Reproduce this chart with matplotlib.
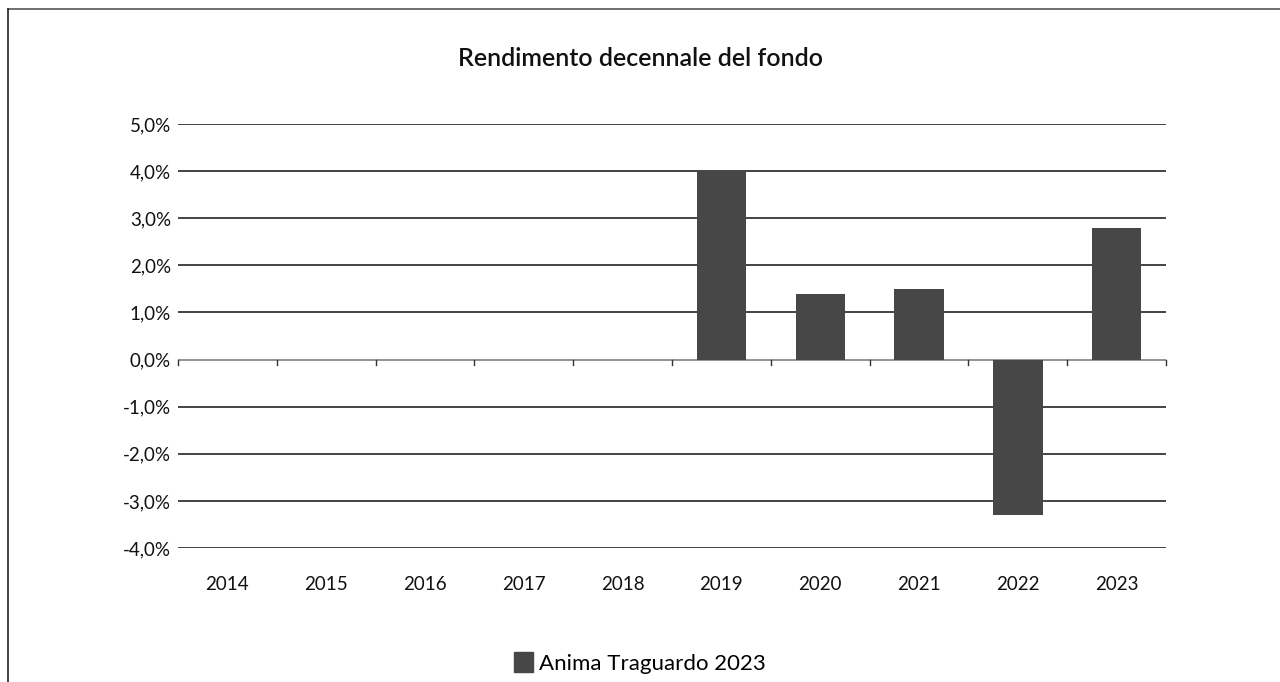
import matplotlib.pyplot as plt
from matplotlib.lines import Line2D
from matplotlib.patches import Patch

years = ["2014", "2015", "2016", "2017", "2018", "2019", "2020", "2021", "2022", "2023"]
returns = [0, 0, 0, 0, 0, 4.0, 1.4, 1.5, -3.3, 2.8]
yticks = [5, 4, 3, 2, 1, 0, -1, -2, -3, -4]
bar_color = "#474747"

plt.rcParams['font.family'] = ['Lato', 'DejaVu Sans']

fig = plt.figure(figsize=(12.8, 6.82), dpi=100)
ax = fig.add_axes([178/1280, 1 - 548/682, (1166-178)/1280, (548-124)/682])

x = list(range(len(years)))
vals = [v if v != 0 else float('nan') for v in returns]
ax.bar(x, vals, width=0.5, color=bar_color, zorder=3)

ax.set_xlim(-0.5, len(years) - 0.5)
ax.set_ylim(-4, 5)
ax.set_yticks(yticks)
ax.set_yticklabels([f"{t:.1f}%".replace(".", ",") for t in yticks], fontsize=13.5, color="#111111")
for t in yticks:
    ax.axhline(t, color="#111111" if t != 0 else "#777777", lw=1.1, zorder=1)

for s in ax.spines.values():
    s.set_visible(False)
ax.tick_params(axis='y', length=0, pad=5)
ax.tick_params(axis='x', length=0, pad=0)
ax.set_xticks(x)
ax.set_xticklabels([])
for i, y in enumerate(years):
    ax.text(i, -4.78, y, ha='center', va='center', fontsize=13.5, color="#111111")
# category boundary ticks on the zero line
for b in range(len(years) + 1):
    ax.plot([b - 0.5, b - 0.5], [0, -0.12], color="#333333", lw=1, clip_on=False, zorder=2)

fig.text(0.5, 1 - 58/682, "Rendimento decennale del fondo", ha='center', va='center',
         fontsize=18, fontweight='semibold', color="#111111")

fig.legend(handles=[Patch(color=bar_color, label="Anima Traguardo 2023")],
           loc='center', bbox_to_anchor=(0.5, 1 - 663/682), frameon=False,
           fontsize=16, handlelength=0.85, handleheight=1.0, handletextpad=0.25)

# frame lines at top and left
fig.add_artist(Line2D([8/1280, 1], [1 - 9/682, 1 - 9/682], color="#555555", lw=1.2))
fig.add_artist(Line2D([8/1280, 8/1280], [0, 1 - 9/682], color="#222222", lw=1.2))

fig.savefig("out.png", dpi=100)
